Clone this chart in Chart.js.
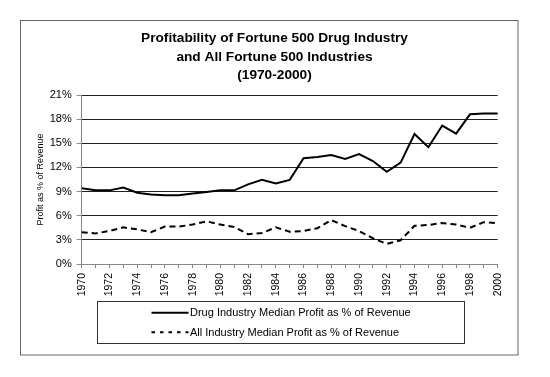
<!DOCTYPE html>
<html>
<head>
<meta charset="utf-8">
<script src="https://cdn.jsdelivr.net/npm/chart.js@4/dist/chart.umd.min.js"></script>
<style>
  html, body { margin: 0; padding: 0; background: #fff; }
  #myChart { display: block; }
</style>
</head>
<body>
<canvas id="myChart" width="550" height="377"></canvas>
<script>
// data
const years = [];
for (let y = 1970; y <= 2000; y++) years.push(String(y));

const drugProfit = [9.4, 9.15, 9.15, 9.5, 8.85, 8.65, 8.55, 8.55, 8.75, 8.95,
                    9.15, 9.15, 9.9, 10.45, 10.0, 10.45, 13.15, 13.3, 13.55, 13.05,
                    13.65, 12.8, 11.45, 12.6, 16.15, 14.5, 17.2, 16.2, 18.6, 18.7, 18.7];
const allProfit = [3.95, 3.8, 4.1, 4.55, 4.3, 3.95, 4.65, 4.65, 4.9, 5.3,
                   4.9, 4.6, 3.7, 3.85, 4.55, 4.0, 4.1, 4.45, 5.45, 4.7,
                   4.1, 3.2, 2.5, 2.95, 4.75, 4.85, 5.1, 4.9, 4.5, 5.2, 5.05];
const seriesNames = ['Drug Industry Median Profit as % of Revenue',
                     'All Industry Median Profit as % of Revenue'];
const titleLines = ['Profitability of Fortune 500 Drug Industry',
                    'and All Fortune 500 Industries',
                    '(1970-2000)'];
const yTicks = [0, 3, 6, 9, 12, 15, 18, 21];

const FONT = 'Arial, "Liberation Sans", sans-serif';

// outer frame, title and boxed legend drawn like the original
const framePlugin = {
    id: 'frame',
    beforeDraw(chart){
        let ctx = chart.ctx;
        ctx.save();
        ctx.fillStyle = '#fff';
        ctx.fillRect(0, 0, chart.width, chart.height);
        ctx.restore();
    },
    afterDraw(chart){
        let ctx = chart.ctx;
        ctx.save();
        ctx.lineWidth = 1;
        ctx.strokeStyle = '#666';
        ctx.strokeRect(20.5, 20.5, 497.5, 334.5);

        // title, centred on the frame
        ctx.fillStyle = '#000';
        ctx.font = 'bold 13.7px ' + FONT;
        ctx.textAlign = 'center';
        ctx.textBaseline = 'middle';
        titleLines.forEach(function(t, i){
            ctx.fillText(t, 274.5, 38.5 + i * 18.5);
        });

        // legend box
        ctx.strokeStyle = '#333';
        ctx.strokeRect(97.5, 301.5, 367, 42);

        let rows = [312.7, 332.3];
        chart.data.datasets.forEach(function(ds, i){
            ctx.beginPath();
            ctx.lineWidth = 2;
            ctx.strokeStyle = ds.borderColor;
            ctx.setLineDash(i === 1 ? [3.5, 5] : []);
            ctx.moveTo(151.5, rows[i]);
            ctx.lineTo(188.5, rows[i]);
            ctx.stroke();
            ctx.setLineDash([]);
            ctx.fillStyle = '#000';
            ctx.font = '11px ' + FONT;
            ctx.textBaseline = 'middle';
            ctx.textAlign = 'left';
            ctx.fillText(ds.label, 190, rows[i] + 0.5);
        });
        ctx.restore();
    }
};

let canvas = document.getElementById('myChart');
let myChart = new Chart(canvas, {
    type: 'line',
    data: {
        labels: years,
        datasets: [
            {
                label: seriesNames[0],
                data: drugProfit,
                borderColor: '#000',
                borderWidth: 2,
                pointRadius: 0,
                tension: 0,
                fill: false
            },
            {
                label: seriesNames[1],
                data: allProfit,
                borderColor: '#000',
                borderWidth: 2,
                borderDash: [6, 4],
                pointRadius: 0,
                tension: 0,
                fill: false
            }
        ]
    },
    options: {
        responsive: false,
        animation: false,
        layout: {
            padding: {left: 0, right: 52.3, top: 95, bottom: 0}
        },
        plugins: {
            legend: {display: false},
            tooltip: {enabled: false},
            title: {display: false}
        },
        scales: {
            x: {
                type: 'category',
                offset: false,
                afterFit: function(scale){ scale.height = 113; },
                grid: {
                    drawOnChartArea: false,
                    drawTicks: true,
                    tickLength: 4,
                    color: '#888',
                    tickColor: '#888'
                },
                border: {display: true, color: '#888', width: 1},
                ticks: {
                    autoSkip: false,
                    maxRotation: 90,
                    minRotation: 90,
                    padding: 5,
                    color: '#000',
                    font: {family: FONT, size: 10.5},
                    callback: function(val, idx){
                        return idx % 2 === 0 ? this.getLabelForValue(val) : '';
                    }
                }
            },
            y: {
                min: 0,
                max: 21,
                afterFit: function(scale){ scale.width = 81.7; },
                afterBuildTicks: function(scale){
                    scale.ticks = yTicks.map(function(v){ return {value: v}; });
                },
                grid: {
                    color: '#222',
                    lineWidth: 1,
                    drawTicks: true,
                    tickLength: 5,
                    tickColor: '#888'
                },
                border: {display: true, color: '#888', width: 1},
                ticks: {
                    padding: 5,
                    color: '#000',
                    font: {family: FONT, size: 11},
                    callback: function(v){ return v + '%'; }
                },
                title: {
                    display: true,
                    text: 'Profit as % of Revenue',
                    color: '#000',
                    font: {family: FONT, size: 9},
                    padding: {top: 35.6, bottom: 0}
                }
            }
        }
    },
    plugins: [framePlugin]
});
</script>
</body>
</html>
